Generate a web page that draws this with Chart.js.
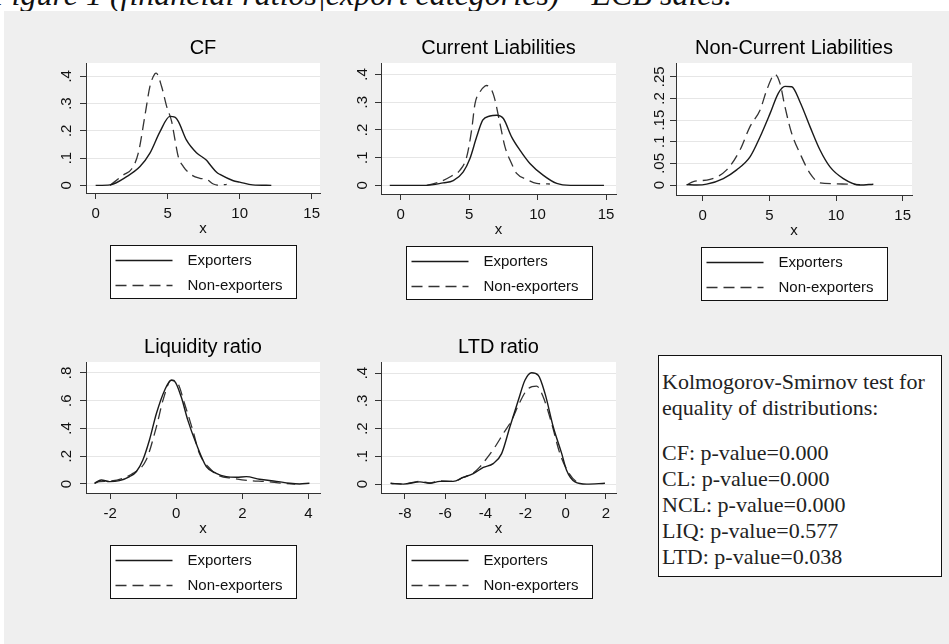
<!DOCTYPE html>
<html>
<head>
<meta charset="utf-8">
<script src="https://cdn.jsdelivr.net/npm/chart.js@4.4.1/dist/chart.umd.min.js"></script>
<style>
  body { margin: 0; background: #fff; width: 949px; height: 644px; overflow: hidden; position: relative; }
  #caption { position: absolute; left: -8px; top: -24px; font: italic 32px/36px "Liberation Serif", serif; color: #111; white-space: nowrap; }
  #panel { position: absolute; left: 4px; top: 11px; right: 0; bottom: 0; background: #efefef; }
  canvas { position: absolute; }
  #ks { position: absolute; left: 658px; top: 355px; width: 284px; height: 222px; background: #fff;
        border: 1.5px solid #111; padding: 13px 0 0 3px; box-sizing: border-box;
        font: 22px/26px "Liberation Serif", "Times New Roman", serif; color: #222; }
  #ks .gap { height: 19px; }
</style>
</head>
<body>
<div id="caption">Figure 1 (financial ratios|export categories) – ECB sales.</div>
<div id="panel"></div>

<canvas id="cf" width="286" height="278" style="left:46px;top:35px"></canvas>
<canvas id="cl" width="287" height="279" style="left:341px;top:35px"></canvas>
<canvas id="ncl" width="288" height="280" style="left:636px;top:35px"></canvas>
<canvas id="liq" width="286" height="279" style="left:46px;top:334px"></canvas>
<canvas id="ltd" width="287" height="279" style="left:341px;top:334px"></canvas>

<div id="ks">
  <div>Kolmogorov-Smirnov test for</div>
  <div>equality of distributions:</div>
  <div class="gap"></div>
  <div>CF: p-value=0.000</div>
  <div>CL: p-value=0.000</div>
  <div>NCL: p-value=0.000</div>
  <div>LIQ: p-value=0.577</div>
  <div>LTD: p-value=0.038</div>
</div>

<script>
// --- data ---
const seriesNames = ['Exporters', 'Non-exporters'];

const cfExpX = [0, 1.0, 2.15, 3.08, 3.77, 4.47, 5.16, 5.5, 5.74, 6.3, 7.0, 7.7, 8.0, 8.4, 8.63, 9.56, 10.0, 10.9, 12.2];
const cfExpY = [0, 0.002, 0.032, 0.069, 0.118, 0.197, 0.253, 0.25, 0.235, 0.167, 0.12, 0.092, 0.072, 0.048, 0.04, 0.017, 0.012, 0.002, 0];
const cfNonX = [1.0, 1.92, 2.5, 2.96, 3.45, 3.77, 4.12, 4.2, 4.58, 4.93, 5.28, 5.51, 5.74, 6.09, 6.67, 7.24, 7.71, 8.17, 8.63, 9.1];
const cfNonY = [0, 0.038, 0.06, 0.118, 0.265, 0.363, 0.41, 0.412, 0.363, 0.29, 0.234, 0.167, 0.105, 0.069, 0.038, 0.026, 0.022, 0.005, 0, 0.004];

const clExpX = [-0.8, 1.9, 3.1, 3.84, 4.57, 5.06, 5.55, 5.99, 6.52, 7.01, 7.5, 8.1, 8.71, 9.44, 10.4, 11.4, 12.4, 14.85];
const clExpY = [0, 0, 0.009, 0.017, 0.049, 0.097, 0.175, 0.235, 0.25, 0.253, 0.241, 0.175, 0.127, 0.079, 0.037, 0.007, 0, 0];
const clNonX = [1.9, 2.87, 3.72, 4.33, 4.82, 5.18, 5.43, 5.79, 6.16, 6.28, 6.65, 6.89, 7.25, 7.62, 8.1, 8.47, 9.2, 9.93, 10.9];
const clNonY = [0, 0.013, 0.034, 0.055, 0.103, 0.199, 0.295, 0.337, 0.358, 0.36, 0.343, 0.307, 0.223, 0.139, 0.079, 0.043, 0.022, 0.007, 0.005];

const nclExpX = [-1.2, -0.45, 0.3, 1.55, 2.55, 3.55, 4.3, 5.05, 5.67, 6.17, 6.68, 7.3, 8.05, 8.8, 9.55, 10.55, 11.8, 12.8];
const nclExpY = [0.001, 0, 0.002, 0.015, 0.035, 0.065, 0.111, 0.165, 0.212, 0.228, 0.227, 0.192, 0.135, 0.081, 0.042, 0.015, 0, 0.002];
const nclNonX = [-1.2, -0.7, 0.55, 1.8, 2.8, 3.55, 4.3, 4.8, 5.3, 5.42, 5.8, 6.17, 6.68, 7.3, 8.05, 8.8, 9.8, 10.8, 11.8];
const nclNonY = [0, 0.008, 0.013, 0.035, 0.081, 0.135, 0.173, 0.219, 0.254, 0.256, 0.235, 0.181, 0.119, 0.073, 0.027, 0.005, 0.003, 0.002, 0.001];

const liqExpX = [-2.47, -2.27, -2.02, -1.72, -1.41, -1.21, -1.01, -0.81, -0.6, -0.35, -0.15, -0.05, 0.15, 0.35, 0.6, 0.91, 1.21, 1.51, 1.82, 2.12, 2.52, 3.03, 3.43, 3.73, 4.03];
const liqExpY = [0.005, 0.029, 0.017, 0.024, 0.053, 0.088, 0.173, 0.317, 0.508, 0.676, 0.748, 0.741, 0.628, 0.46, 0.293, 0.125, 0.077, 0.053, 0.048, 0.053, 0.034, 0.019, 0.005, 0, 0.005];
const liqNonX = [-2.47, -2.32, -2.02, -1.31, -0.91, -0.6, -0.4, -0.15, 0.05, 0.25, 0.5, 0.7, 1.01, 1.31, 1.71, 2.22, 2.72, 3.23, 3.6];
const liqNonY = [0.005, 0.017, 0.02, 0.077, 0.173, 0.412, 0.604, 0.748, 0.724, 0.58, 0.388, 0.221, 0.113, 0.058, 0.041, 0.024, 0.017, 0.005, 0];

const ltdExpX = [-8.71, -8.08, -7.25, -6.76, -6.26, -5.6, -5.1, -4.6, -4.1, -3.61, -3.19, -2.78, -2.36, -2.03, -1.7, -1.37, -1.03, -0.62, -0.2, 0.04, 0.46, 1.04, 1.95];
const ltdExpY = [0.003, 0, 0.008, 0.003, 0.01, 0.01, 0.024, 0.038, 0.06, 0.074, 0.11, 0.206, 0.302, 0.374, 0.401, 0.392, 0.326, 0.206, 0.11, 0.05, 0.008, 0, 0.003];
const ltdNonX = [-8.71, -8.08, -7.25, -6.76, -6.26, -5.6, -5.1, -4.6, -4.27, -3.94, -3.52, -3.11, -2.69, -2.28, -1.87, -1.45, -1.12, -0.7, -0.29, 0.12, 0.54, 0.8];
const ltdNonY = [0.003, 0, 0.01, 0.004, 0.012, 0.01, 0.024, 0.04, 0.062, 0.092, 0.134, 0.182, 0.23, 0.296, 0.344, 0.353, 0.314, 0.218, 0.11, 0.044, 0.008, 0.002];

// tick values and labels
const xTicks15 = [0, 5, 10, 15];
const xLabels15 = ['0', '5', '10', '15'];
const liqXTicks = [-2, 0, 2, 4];
const liqXLabels = ['-2', '0', '2', '4'];
const ltdXTicks = [-8, -6, -4, -2, 0, 2];
const ltdXLabels = ['-8', '-6', '-4', '-2', '0', '2'];
const yTicks4 = [0, 0.1, 0.2, 0.3, 0.4];
const yLabels4 = ['0', '.1', '.2', '.3', '.4'];
const nclYTicks = [0, 0.05, 0.1, 0.15, 0.2, 0.25];
const nclYLabels = ['0', '.05', '.1', '.15', '.2', '.25'];
const liqYTicks = [0, 0.2, 0.4, 0.6, 0.8];
const liqYLabels = ['0', '.2', '.4', '.6', '.8'];

Chart.defaults.font.family = '"Liberation Sans", Arial, sans-serif';
Chart.defaults.color = '#111';

function pts(xs, ys) {
  return xs.map((x, i) => ({ x: x, y: ys[i] }));
}

// white plot region, like Stata's plotregion
const plotBg = {
  id: 'plotBg',
  beforeDraw(chart) {
    const a = chart.chartArea, ctx = chart.ctx;
    ctx.save();
    ctx.fillStyle = '#fff';
    ctx.fillRect(a.left, a.top, a.right - a.left, a.bottom - a.top);
    ctx.restore();
  }
};

// title centred over the plot region rather than the whole canvas
const panelTitle = {
  id: 'panelTitle',
  afterDraw(chart, args, opts) {
    const a = chart.chartArea, ctx = chart.ctx;
    ctx.save();
    ctx.font = '20px "Liberation Sans", Arial, sans-serif';
    ctx.fillStyle = '#000';
    ctx.textAlign = 'center';
    ctx.textBaseline = 'middle';
    ctx.fillText(opts.text, (a.left + a.right) / 2, a.top - 15);
    ctx.restore();
  }
};

// boxed legend under the x axis, one key per row
const boxLegend = {
  id: 'boxLegend',
  afterDraw(chart) {
    const a = chart.chartArea, ctx = chart.ctx;
    const w = 186, h = 53;
    const left = Math.round((a.left + a.right) / 2 - w / 2) + 0.5;
    const top = Math.round(a.bottom + 52) + 0.5;
    ctx.save();
    ctx.fillStyle = '#fff';
    ctx.fillRect(left, top, w, h);
    ctx.strokeStyle = '#111';
    ctx.lineWidth = 1;
    ctx.strokeRect(left, top, w, h);
    ctx.font = '15px "Liberation Sans", Arial, sans-serif';
    ctx.textBaseline = 'middle';
    chart.data.datasets.forEach((ds, i) => {
      const y = top + 15 + i * 25;
      ctx.strokeStyle = ds.borderColor;
      ctx.lineWidth = 1.3;
      ctx.setLineDash(ds.borderDash || []);
      ctx.beginPath();
      ctx.moveTo(left + 5, y);
      ctx.lineTo(left + 62, y);
      ctx.stroke();
      ctx.setLineDash([]);
      ctx.fillStyle = '#111';
      ctx.fillText(ds.label, left + 77, y);
    });
    ctx.restore();
  }
};

function drawPanel(p) {
  new Chart(document.getElementById(p.id), {
    type: 'scatter',
    data: {
      datasets: [
        { label: seriesNames[0], data: pts(p.expX, p.expY), showLine: true, pointRadius: 0,
          borderColor: '#1a1a1a', borderWidth: 1.4, cubicInterpolationMode: 'monotone' },
        { label: seriesNames[1], data: pts(p.nonX, p.nonY), showLine: true, pointRadius: 0,
          borderColor: '#333', borderWidth: 1.3, borderDash: [11, 6], cubicInterpolationMode: 'monotone' }
      ]
    },
    options: {
      responsive: false,
      animation: false,
      layout: { padding: { left: 0, right: 12, top: 28, bottom: 70 } },
      plugins: {
        legend: { display: false },
        tooltip: { enabled: false },
        title: { display: false },
        panelTitle: { text: p.title }
      },
      scales: {
        x: {
          type: 'linear', min: p.xMin, max: p.xMax,
          afterBuildTicks: s => { s.ticks = p.xTicks.map(v => ({ value: v })); },
          afterFit: s => { s.height = 50; },
          grid: { drawOnChartArea: false, tickColor: '#333', tickLength: 6 },
          border: { color: '#333', width: 1 },
          ticks: { font: { size: 15 }, color: '#111', padding: 6, minRotation: 0, maxRotation: 0,
                   callback: (v, i) => p.xLabels[i] },
          title: { display: true, text: 'x', font: { size: 15 }, color: '#111', padding: { top: 0, bottom: 5 } }
        },
        y: {
          type: 'linear', min: p.yMin, max: p.yMax,
          afterBuildTicks: s => { s.ticks = p.yTicks.map(v => ({ value: v })); },
          afterFit: s => { s.width = 40; },
          grid: { color: '#e6e6e6', tickColor: '#333', tickLength: 6 },
          border: { color: '#333', width: 1 },
          ticks: { font: { size: 15 }, color: '#111', padding: p.yPad, minRotation: 90, maxRotation: 90,
                   crossAlign: 'center', callback: (v, i) => p.yLabels[i] }
        }
      }
    },
    plugins: [plotBg, panelTitle, boxLegend]
  });
}

drawPanel({ id: 'cf', title: 'CF', expX: cfExpX, expY: cfExpY, nonX: cfNonX, nonY: cfNonY,
  xMin: -0.67, xMax: 15.58, yMin: -0.028, yMax: 0.449, xTicks: xTicks15, xLabels: xLabels15,
  yTicks: yTicks4, yLabels: yLabels4, yPad: 6.75 });
drawPanel({ id: 'cl', title: 'Current Liabilities', expX: clExpX, expY: clExpY, nonX: clNonX, nonY: clNonY,
  xMin: -1.44, xMax: 15.73, yMin: -0.031, yMax: 0.441, xTicks: xTicks15, xLabels: xLabels15,
  yTicks: yTicks4, yLabels: yLabels4, yPad: 5.75 });
drawPanel({ id: 'ncl', title: 'Non-Current Liabilities', expX: nclExpX, expY: nclExpY, nonX: nclNonX, nonY: nclNonY,
  xMin: -2.0, xMax: 15.7, yMin: -0.023, yMax: 0.282, xTicks: xTicks15, xLabels: xLabels15,
  yTicks: nclYTicks, yLabels: nclYLabels, yPad: 0 });
drawPanel({ id: 'liq', title: 'Liquidity ratio', expX: liqExpX, expY: liqExpY, nonX: liqNonX, nonY: liqNonY,
  xMin: -2.73, xMax: 4.35, yMin: -0.065, yMax: 0.879, xTicks: liqXTicks, xLabels: liqXLabels,
  yTicks: liqYTicks, yLabels: liqYLabels, yPad: 7 });
drawPanel({ id: 'ltd', title: 'LTD ratio', expX: ltdExpX, expY: ltdExpY, nonX: ltdNonX, nonY: ltdNonY,
  xMin: -9.19, xMax: 2.5, yMin: -0.032, yMax: 0.44, xTicks: ltdXTicks, xLabels: ltdXLabels,
  yTicks: yTicks4, yLabels: yLabels4, yPad: 5.5 });
</script>
</body>
</html>
